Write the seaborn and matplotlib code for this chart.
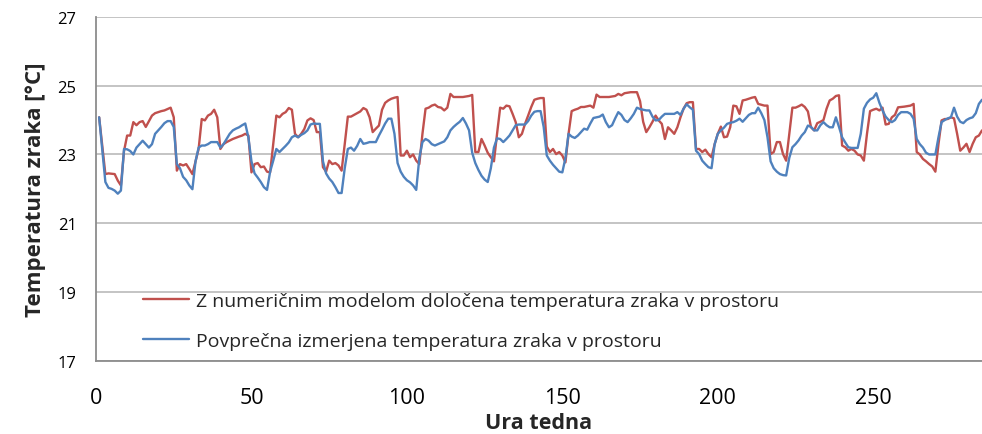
import matplotlib
matplotlib.use("Agg")
import matplotlib.pyplot as plt
import seaborn as sns
import pandas as pd

model_hours = [1, 3, 4, 6, 7, 8, 9, 10, 11, 12, 13, 14, 15, 16, 18, 19, 21, 22, 24, 25,
               26, 27, 28, 29, 30, 31, 33, 34, 35, 36, 37, 38, 39, 40, 41, 42, 44, 46, 47, 48,
               49, 50, 51, 52, 53, 54, 55, 56, 57, 58, 59, 60, 61, 62, 63, 64, 65, 66, 67, 68,
               69, 70, 71, 72, 73, 74, 75, 76, 77, 78, 79, 80, 81, 82, 83, 84, 85, 86, 87, 88,
               89, 90, 91, 92, 93, 94, 95, 96, 97, 98, 99, 100, 101, 102, 103, 104, 105, 106, 107, 108,
               109, 110, 111, 112, 113, 114, 115, 116, 118, 120, 121, 122, 123, 124, 125, 126, 127, 128, 129, 130,
               131, 132, 133, 134, 135, 136, 137, 138, 139, 140, 141, 142, 143, 144, 145, 146, 147, 148, 149, 150,
               151, 152, 153, 154, 155, 156, 157, 158, 159, 160, 161, 162, 163, 165, 167, 168, 169, 170, 172, 174,
               175, 176, 177, 178, 179, 180, 181, 182, 183, 184, 185, 186, 187, 188, 189, 190, 191, 192, 193, 194,
               195, 196, 197, 198, 199, 200, 201, 202, 203, 204, 205, 206, 207, 208, 209, 210, 211, 212, 213, 215,
               216, 217, 218, 219, 220, 221, 222, 223, 224, 225, 226, 227, 228, 229, 230, 231, 232, 233, 234, 235,
               236, 237, 238, 239, 240, 241, 242, 243, 244, 245, 246, 247, 248, 249, 250, 251, 252, 253, 254, 255,
               256, 257, 258, 260, 262, 263, 264, 265, 266, 267, 268, 269, 270, 271, 272, 273, 274, 275, 276, 277,
               278, 279, 280, 281, 282, 283, 284, 285]
model_temp = [24.08, 22.43, 22.45, 22.43, 22.24, 22.1, 23.1, 23.55, 23.55, 23.94, 23.85, 23.94, 23.97, 23.8, 24.13, 24.2, 24.26, 24.28, 24.36, 24.08,
              22.53, 22.72, 22.68, 22.72, 22.58, 22.43, 23.16, 24.03, 23.99, 24.13, 24.18, 24.3, 24.08, 23.16, 23.3, 23.36, 23.45, 23.52, 23.55, 23.6,
              23.55, 22.48, 22.72, 22.75, 22.63, 22.65, 22.5, 22.48, 23.3, 24.13, 24.08, 24.18, 24.23, 24.35, 24.3, 23.6, 23.5, 23.6, 23.74, 23.99,
              24.05, 24.0, 23.65, 23.65, 22.63, 22.5, 22.82, 22.72, 22.75, 22.68, 22.53, 23.3, 24.1, 24.1, 24.15, 24.2, 24.25, 24.35, 24.3, 24.08,
              23.65, 23.75, 23.84, 24.3, 24.5, 24.57, 24.62, 24.65, 24.67, 22.97, 22.97, 23.11, 22.92, 23.0, 22.82, 22.72, 23.6, 24.33, 24.36, 24.42,
              24.45, 24.38, 24.36, 24.28, 24.36, 24.76, 24.67, 24.67, 24.67, 24.7, 24.73, 23.07, 23.07, 23.45, 23.26, 23.05, 22.92, 22.8, 23.6, 24.36,
              24.33, 24.42, 24.4, 24.18, 23.94, 23.5, 23.6, 23.89, 24.13, 24.38, 24.59, 24.62, 24.64, 24.64, 23.23, 23.07, 23.16, 23.01, 23.07, 22.97,
              22.77, 23.6, 24.26, 24.3, 24.33, 24.38, 24.38, 24.4, 24.42, 24.36, 24.74, 24.67, 24.67, 24.67, 24.7, 24.76, 24.72, 24.78, 24.81, 24.81,
              24.55, 23.95, 23.65, 23.79, 23.95, 24.13, 23.99, 23.89, 23.45, 23.79, 23.7, 23.6, 23.79, 24.08, 24.33, 24.49, 24.52, 24.52, 23.16, 23.16,
              23.07, 23.14, 23.01, 22.92, 23.3, 23.6, 23.81, 23.5, 23.52, 23.79, 24.42, 24.4, 24.18, 24.57, 24.59, 24.62, 24.65, 24.67, 24.47, 24.42,
              24.42, 23.01, 23.07, 23.36, 23.36, 23.01, 22.82, 23.6, 24.36, 24.36, 24.4, 24.45, 24.38, 24.25, 23.79, 23.7, 23.91, 23.95, 24.0, 24.33,
              24.57, 24.62, 24.7, 24.72, 23.26, 23.21, 23.11, 23.16, 23.11, 23.0, 22.97, 22.82, 23.6, 24.26, 24.3, 24.33, 24.28, 24.36, 23.87, 23.89,
              24.08, 24.15, 24.37, 24.39, 24.42, 24.47, 23.07, 23.0, 22.87, 22.8, 22.72, 22.65, 22.5, 23.3, 23.99, 24.03, 24.03, 24.08, 24.05, 23.6,
              23.11, 23.2, 23.31, 23.07, 23.31, 23.5, 23.55, 23.7]

meas_hours = [1, 3, 4, 5, 6, 7, 8, 9, 10, 11, 12, 13, 14, 15, 16, 17, 18, 19, 20, 21,
              22, 23, 24, 25, 26, 27, 28, 29, 30, 31, 32, 33, 34, 35, 36, 37, 38, 39, 40, 41,
              42, 43, 44, 45, 46, 47, 48, 49, 50, 51, 52, 53, 54, 55, 56, 57, 58, 59, 60, 61,
              62, 63, 64, 65, 66, 67, 68, 69, 70, 71, 72, 73, 74, 75, 76, 77, 78, 79, 80, 81,
              82, 83, 84, 85, 86, 87, 88, 90, 91, 92, 93, 94, 95, 96, 97, 98, 99, 100, 101, 102,
              103, 104, 105, 106, 107, 108, 109, 110, 111, 112, 113, 114, 115, 116, 117, 118, 119, 120, 121, 122,
              123, 124, 125, 126, 127, 128, 129, 130, 131, 132, 133, 134, 135, 136, 138, 139, 140, 141, 142, 143,
              144, 145, 146, 147, 148, 149, 150, 151, 152, 153, 154, 155, 156, 157, 158, 159, 160, 162, 163, 164,
              165, 166, 167, 168, 169, 170, 171, 172, 173, 174, 175, 177, 178, 179, 180, 181, 182, 183, 186, 187,
              188, 189, 190, 191, 192, 193, 194, 195, 196, 197, 198, 199, 200, 201, 202, 203, 204, 205, 206, 207,
              208, 209, 210, 211, 212, 213, 214, 215, 216, 217, 218, 219, 220, 221, 222, 223, 224, 225, 226, 227,
              228, 229, 230, 231, 232, 233, 234, 235, 236, 237, 238, 239, 240, 241, 242, 243, 245, 246, 247, 248,
              249, 250, 251, 252, 253, 254, 255, 256, 257, 258, 259, 261, 262, 263, 264, 265, 266, 267, 268, 270,
              271, 272, 273, 274, 275, 276, 277, 278, 279, 280, 281, 282, 283, 284, 285]
meas_temp = [24.08, 22.2, 22.03, 22.0, 21.95, 21.86, 21.95, 23.16, 23.15, 23.1, 23.0, 23.2, 23.3, 23.4, 23.3, 23.2, 23.3, 23.6, 23.7, 23.8,
             23.91, 23.97, 23.97, 23.8, 22.72, 22.6, 22.35, 22.25, 22.1, 21.99, 22.8, 23.2, 23.26, 23.26, 23.3, 23.36, 23.36, 23.36, 23.2, 23.3,
             23.45, 23.6, 23.7, 23.75, 23.79, 23.85, 23.9, 23.5, 22.8, 22.45, 22.33, 22.2, 22.05, 21.97, 22.5, 22.82, 23.16, 23.07, 23.16, 23.25,
             23.35, 23.5, 23.55, 23.5, 23.57, 23.62, 23.7, 23.87, 23.9, 23.89, 23.89, 22.8, 22.45, 22.3, 22.2, 22.05, 21.88, 21.88, 22.6, 23.16,
             23.2, 23.11, 23.25, 23.45, 23.31, 23.33, 23.36, 23.36, 23.55, 23.72, 23.9, 24.04, 24.04, 23.6, 22.75, 22.5, 22.35, 22.25, 22.19, 22.1,
             21.97, 22.9, 23.36, 23.45, 23.4, 23.3, 23.26, 23.3, 23.34, 23.38, 23.5, 23.7, 23.8, 23.88, 23.95, 24.06, 23.9, 23.7, 23.05, 22.75,
             22.55, 22.38, 22.27, 22.2, 22.6, 23.2, 23.47, 23.45, 23.36, 23.45, 23.55, 23.7, 23.85, 23.87, 23.87, 23.97, 24.13, 24.24, 24.26, 24.26,
             23.8, 22.97, 22.82, 22.7, 22.6, 22.5, 22.48, 22.9, 23.6, 23.52, 23.48, 23.55, 23.65, 23.75, 23.72, 23.9, 24.06, 24.1, 24.16, 23.94,
             23.79, 23.85, 24.05, 24.23, 24.15, 24.0, 23.94, 24.05, 24.18, 24.36, 24.32, 24.28, 24.28, 24.1, 23.99, 24.0, 24.1, 24.18, 24.18, 24.23,
             24.15, 24.33, 24.46, 24.37, 24.3, 23.11, 23.01, 22.82, 22.72, 22.63, 22.6, 23.3, 23.6, 23.7, 23.78, 23.89, 23.92, 23.94, 23.98, 24.04,
             23.95, 24.05, 24.15, 24.2, 24.2, 24.36, 24.2, 24.0, 23.5, 22.8, 22.6, 22.5, 22.43, 22.4, 22.39, 22.9, 23.21, 23.3, 23.41, 23.55,
             23.65, 23.84, 23.8, 23.7, 23.7, 23.85, 23.94, 23.85, 23.79, 23.79, 24.08, 23.8, 23.5, 23.35, 23.21, 23.19, 23.19, 23.6, 24.33, 24.5,
             24.6, 24.65, 24.78, 24.5, 24.28, 24.1, 24.0, 23.94, 24.0, 24.15, 24.23, 24.23, 24.18, 24.04, 23.45, 23.3, 23.2, 23.05, 23.0, 23.0,
             23.5, 23.94, 24.0, 24.05, 24.08, 24.36, 24.1, 23.95, 23.91, 24.0, 24.05, 24.08, 24.2, 24.47, 24.59]

model_label = "Z numeričnim modelom določena temperatura zraka v prostoru"
meas_label = "Povprečna izmerjena temperatura zraka v prostoru"
y_ticks = [17, 19, 21, 23, 25, 27]
x_ticks = [0, 50, 100, 150, 200, 250]
x_title = "Ura tedna"
y_title = "Temperatura zraka [°C]"

sns.set_theme(style="white")
plt.rcParams['font.family'] = ['Open Sans', 'DejaVu Sans']

fig = plt.figure(figsize=(9.82, 4.35), dpi=100)
ax = fig.add_axes([0.0978, 0.168, 0.9022, 0.791])

df_model = pd.DataFrame({"hour": model_hours, "temp": model_temp})
df_meas = pd.DataFrame({"hour": meas_hours, "temp": meas_temp})

ax.set_axisbelow(True)
ax.grid(axis="y", color="#bfbfbf", linewidth=1.3)
sns.lineplot(data=df_model, x="hour", y="temp", ax=ax, color="#C0504D", linewidth=1.7, label=model_label)
sns.lineplot(data=df_meas, x="hour", y="temp", ax=ax, color="#4F81BD", linewidth=1.7, label=meas_label)

ax.set_xlim(0, 285)
ax.set_ylim(17, 27)
ax.set_yticks(y_ticks)
ax.set_xticks(x_ticks)
ax.tick_params(axis="y", labelsize=12, length=6, width=1, direction="out", pad=8,
               labelcolor="black", color="#8c8c8c")
ax.tick_params(axis="x", labelsize=15.5, length=0, pad=19, labelcolor="black")
for s in ["top", "right"]:
    ax.spines[s].set_visible(False)
for s in ["left", "bottom"]:
    ax.spines[s].set_color("#8c8c8c")
    ax.spines[s].set_linewidth(1.3)

ax.set_xlabel(x_title, fontsize=15.5, fontweight="bold", labelpad=3)
ax.set_ylabel(y_title, fontsize=16, fontweight="bold", labelpad=8)

leg = ax.legend(loc="lower left", bbox_to_anchor=(0.033, -0.02), frameon=False,
                fontsize=14, handlelength=2.4, labelspacing=1.15, handletextpad=0.36)

fig.savefig("out.png", dpi=100)
